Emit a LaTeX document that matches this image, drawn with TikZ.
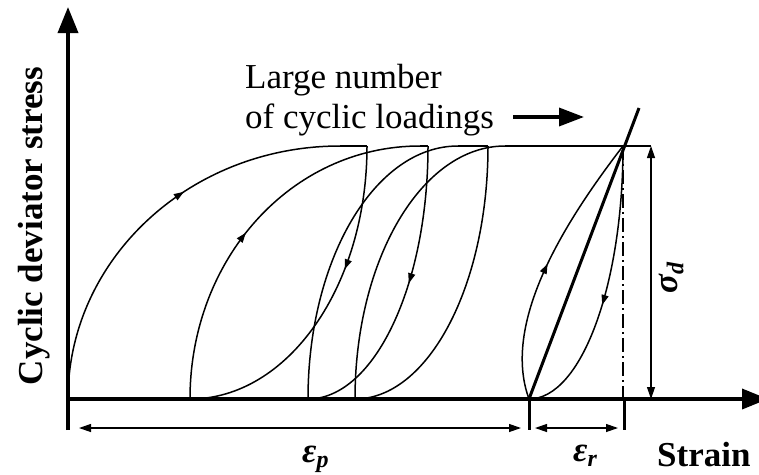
\documentclass[tikz,border=0pt]{standalone}
\usepackage{fontspec}
\setmainfont{Liberation Serif}
\usetikzlibrary{arrows.meta,decorations.markings}
\begin{document}
\begin{tikzpicture}[x=1pt,y=-1pt,
  loopline/.style={line width=1.5pt},
  axisline/.style={line width=3.6pt,-{Triangle[length=26pt,width=20pt]}},
  dimline/.style={line width=1.2pt},
  dimtip/.style={{Triangle[length=12pt,width=8pt]}-{Triangle[length=12pt,width=8pt]}},
  midarrow/.style={postaction={decorate},decoration={markings,mark=at position #1 with {\arrow{Triangle[length=10pt,width=7pt]}}}},
  bigtext/.style={font=\fontsize{35}{40}\selectfont},
  boldtext/.style={font=\fontsize{35}{40}\selectfont\bfseries},
  symtext/.style={font=\fontsize{35}{40}\selectfont\bfseries\itshape},
]
\useasboundingbox (0,0) rectangle (759,474);

% axes
\coordinate (O) at (68,399);
\coordinate (ybot) at (68,430);
\coordinate (ytop) at (68,7);
\coordinate (xleft) at (66,399);
\coordinate (xright) at (768,399);
\draw[axisline] (ybot) -- (ytop);
\draw[axisline] (xleft) -- (xright);

% loop points
\coordinate (B1) at (68,399);
\coordinate (B2) at (190,399);
\coordinate (B3) at (308,399);
\coordinate (B4) at (355,399);
\coordinate (B5) at (529,399);
\coordinate (E1) at (340,146);
\coordinate (E2) at (420,146);
\coordinate (E3) at (458,146);
\coordinate (E4) at (505,146);
\coordinate (T1) at (367,146);
\coordinate (T2) at (428,146);
\coordinate (T3) at (488,146);
\coordinate (T4) at (623,146);
\coordinate (Tend) at (651,146);

% loading curves
\draw[loopline,midarrow=0.6] (B1) .. controls (68,259) and (190,146) .. (E1);
\draw[loopline] (E1) -- (T1);
\draw[loopline,midarrow=0.47] (B2) .. controls (190,259) and (291,146) .. (E2);
\draw[loopline] (E2) -- (T2);
\draw[loopline] (B3) .. controls (308,259) and (375,146) .. (E3);
\draw[loopline] (E3) -- (T3);
\draw[loopline] (B4) .. controls (355,259) and (422,146) .. (E4);
\draw[loopline] (E4) -- (Tend);

% unloading curves
\draw[loopline,midarrow=0.37] (T1) .. controls (367,286) and (288,399) .. (B2);
\draw[loopline,midarrow=0.46] (T2) .. controls (428,286) and (374,399) .. (B3);
\draw[loopline] (T3) .. controls (488,286) and (428,399) .. (B4);

% final loop
\draw[loopline,midarrow=0.5] (B5) .. controls (500,320) and (570,215) .. (T4);
\draw[loopline,midarrow=0.56] (T4) .. controls (623,286) and (581,399) .. (B5);
\coordinate (slopeend) at (639,108);
\draw[line width=3pt] (B5) -- (slopeend);

% dash-dot line and ticks
\coordinate (T4b) at (623,399);
\draw[line width=1.2pt,dash pattern=on 14pt off 4pt on 2pt off 4pt] (T4) -- (T4b);
\coordinate (tickA) at (529,430);
\coordinate (tickB) at (624,430);
\coordinate (tickBt) at (624,399);
\draw[line width=3pt] (B5) -- (tickA);
\draw[line width=3pt] (tickBt) -- (tickB);

% sigma_d dimension
\coordinate (sdtop) at (651,146);
\coordinate (sdbot) at (651,399);
\draw[dimline,dimtip] (sdtop) -- (sdbot);
\node[symtext,rotate=90,anchor=base west,inner sep=0pt] (sigd) at (677,294) {σ\raisebox{-0.18em}{\fontsize{24}{24}\selectfont d}};

% epsilon dimensions
\coordinate (ep1) at (79,428);
\coordinate (ep2) at (521,428);
\coordinate (er1) at (535,428);
\coordinate (er2) at (618,428);
\draw[dimline,dimtip] (ep1) -- (ep2);
\draw[dimline,dimtip] (er1) -- (er2);
\node[symtext,anchor=base west,inner sep=0pt] (epsp) at (302,462) {ε\raisebox{-0.15em}{\fontsize{24}{24}\selectfont p}};
\node[symtext,anchor=base west,inner sep=0pt] (epsr) at (573,461) {ε\raisebox{-0.15em}{\fontsize{24}{24}\selectfont r}};

% labels
\node[boldtext,anchor=base west,inner sep=0pt] (strain) at (657,466) {Strain};
\node[boldtext,rotate=90,anchor=base,inner sep=0pt] (ylab) at (42,226) {Cyclic deviator stress};
\node[bigtext,anchor=base west,inner sep=0pt] (l1) at (245,88) {Large number};
\node[bigtext,anchor=base west,inner sep=0pt] (l2) at (245,128) {of cyclic loadings};
\coordinate (ar1) at (513,117);
\coordinate (ar2) at (584,117);
\draw[line width=3.5pt,-{Triangle[length=25pt,width=18pt]}] (ar1) -- (ar2);
\end{tikzpicture}
\end{document}
